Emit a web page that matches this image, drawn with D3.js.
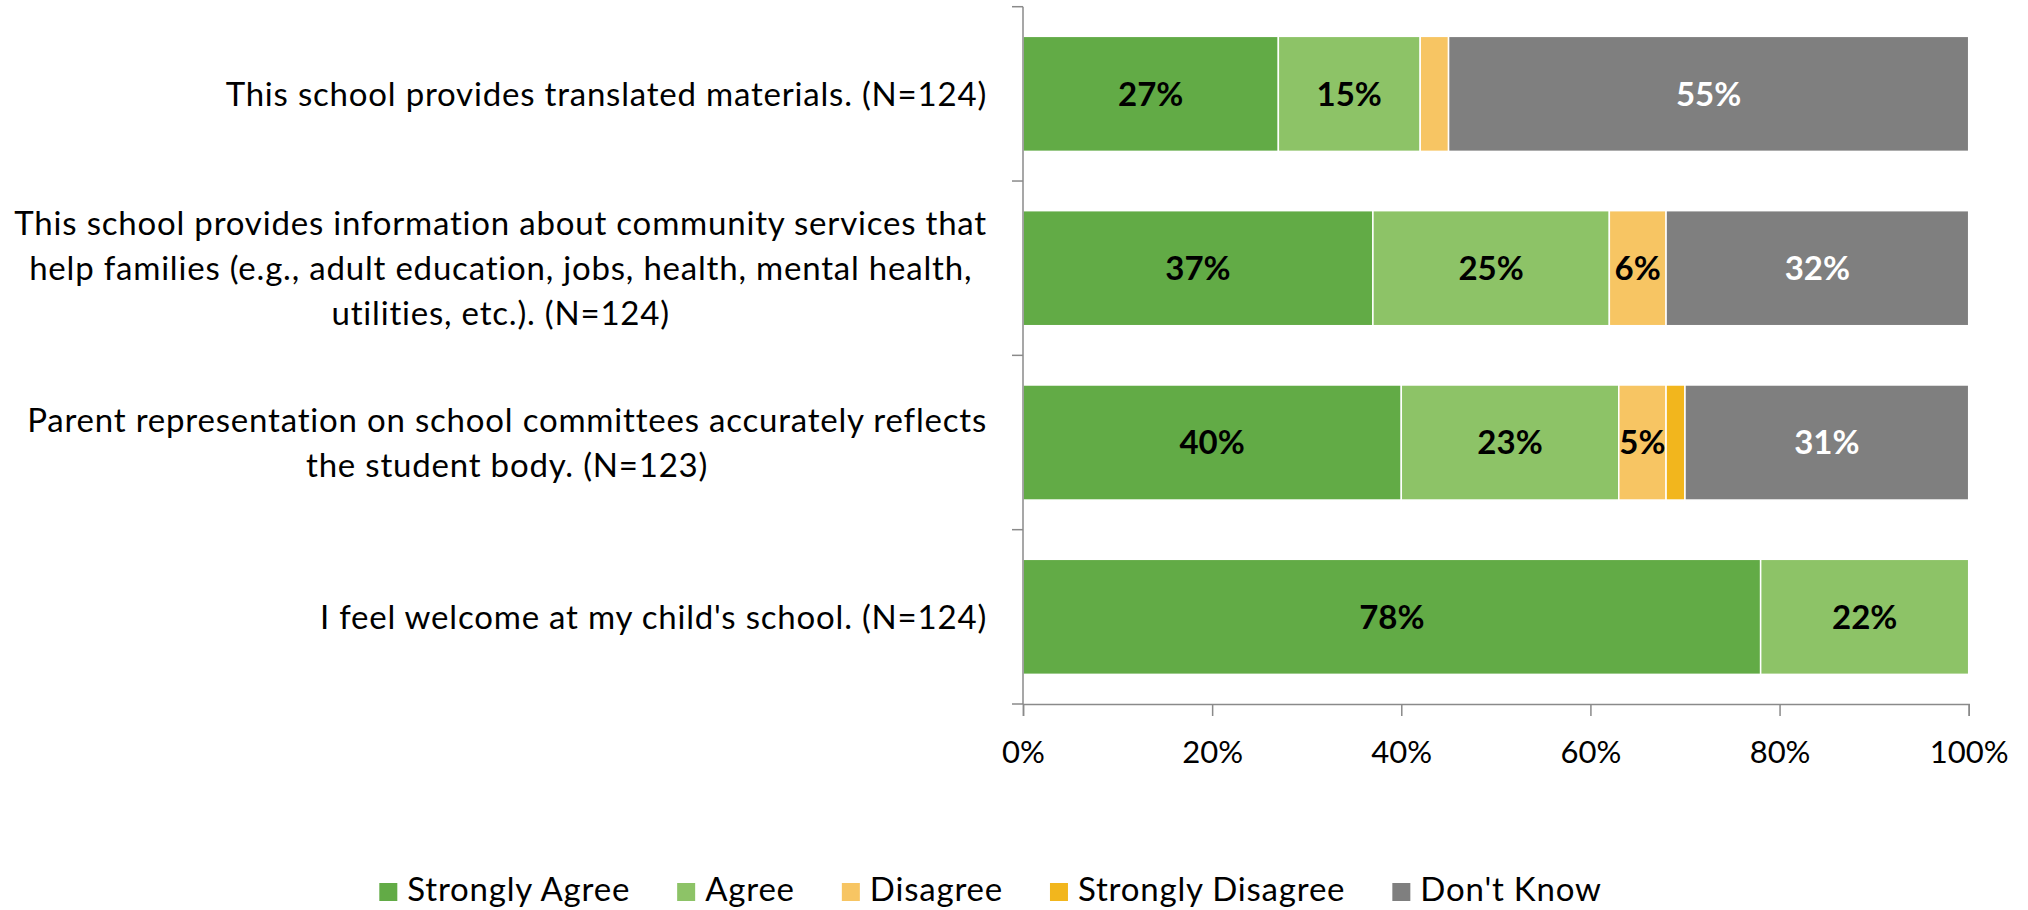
<!DOCTYPE html>
<html>
<head>
<meta charset="utf-8">
<script src="https://cdn.jsdelivr.net/npm/d3@7"></script>
<style>
  html, body { margin: 0; padding: 0; background: #fff; }
  svg { display: block; font-family: Lato, "Open Sans", sans-serif; }
</style>
</head>
<body>
<svg id="chart" width="2028" height="910"></svg>
<script>
// ---- data ----
const categories = [
  "This school provides translated materials. (N=124)",
  "This school provides information about community services that help families (e.g., adult education, jobs, health, mental health, utilities, etc.). (N=124)",
  "Parent representation on school committees accurately reflects the student body. (N=123)",
  "I feel welcome at my child's school. (N=124)"
];
const categoryLines = [
  ["This school provides translated materials. (N=124)"],
  ["This school provides information about community services that",
   "help families (e.g., adult education, jobs, health, mental health,",
   "utilities, etc.). (N=124)"],
  ["Parent representation on school committees accurately reflects",
   "the student body. (N=123)"],
  ["I feel welcome at my child's school. (N=124)"]
];
const seriesNames = ["Strongly Agree", "Agree", "Disagree", "Strongly Disagree", "Don't Know"];
const stronglyAgree    = [27, 37, 40, 78];
const agree            = [15, 25, 23, 22];
const disagree         = [3, 6, 5, 0];
const stronglyDisagree = [0, 0, 2, 0];
const dontKnow         = [55, 32, 31, 0];
const xTicks = [0, 0.2, 0.4, 0.6, 0.8, 1.0];

const seriesValues = [stronglyAgree, agree, disagree, stronglyDisagree, dontKnow];
const colors = ["#62AB46", "#8DC367", "#F7C563", "#F2B61D", "#7F7F7F"];
const labelColors = ["#000", "#000", "#000", "#000", "#fff"];

// ---- layout ----
const svg = d3.select("#chart");
const plotLeft = 1023, plotRight = 1968.7, plotTop = 6.7, plotBottom = 704;
const fontSize = 33;
const letterSp = 0.8;
const axisColor = "#8A8A8A";

const x = d3.scaleLinear().domain([0, 1]).range([plotLeft, plotRight]).clamp(true);
const y = d3.scaleBand().domain(categories).range([plotTop, plotBottom])
  .paddingInner(0.34).paddingOuter(0.17);

// stacked data
const rows = categories.map((c, i) => {
  const o = { cat: c };
  seriesNames.forEach((s, j) => o[s] = seriesValues[j][i] / 100);
  return o;
});
const stack = d3.stack().keys(seriesNames);
const stacked = stack(rows);

// bars
const gBars = svg.append("g");
stacked.forEach((layer, j) => {
  gBars.selectAll(null)
    .data(layer.filter(d => d[1] - d[0] > 0))
    .join("rect")
    .attr("x", d => x(d[0]))
    .attr("y", d => y(d.data.cat))
    .attr("width", d => x(d[1]) - x(d[0]))
    .attr("height", y.bandwidth())
    .attr("fill", colors[j])
    .attr("stroke", "#fff")
    .attr("stroke-width", 1.5);
});

// data labels
stacked.forEach((layer, j) => {
  svg.append("g").selectAll("text")
    .data(layer.filter(d => (d[1] - d[0]) >= 0.05))
    .join("text")
    .attr("x", d => (x(d[0]) + x(d[1])) / 2)
    .attr("y", d => y(d.data.cat) + y.bandwidth() / 2)
    .attr("dy", "0.36em")
    .attr("text-anchor", "middle")
    .attr("font-weight", "bold")
    .attr("font-size", 33)
    .attr("fill", labelColors[j])
    .text(d => Math.round((d[1] - d[0]) * 100) + "%");
});

// x axis
const xAxis = d3.axisBottom(x).tickValues(xTicks).tickFormat(d3.format(".0%"))
  .tickSize(12).tickPadding(25);
const gx = svg.append("g").attr("transform", `translate(0,${plotBottom})`).call(xAxis);
gx.select(".domain").attr("stroke", axisColor).attr("stroke-width", 1.5);
gx.selectAll(".tick line").attr("stroke", axisColor).attr("stroke-width", 1.5);
gx.selectAll(".tick text").attr("font-size", 31).attr("font-family", "Lato, sans-serif").attr("fill", "#000");

// y axis line and boundary ticks
const gy = svg.append("g");
gy.append("line")
  .attr("x1", plotLeft).attr("x2", plotLeft)
  .attr("y1", plotTop).attr("y2", plotBottom)
  .attr("stroke", axisColor).attr("stroke-width", 1.5);
const boundaries = categories.map(c => y(c) - y.step() * y.paddingInner() / 2);
boundaries.push(plotBottom);
gy.selectAll("line.tk").data(boundaries).join("line")
  .attr("class", "tk")
  .attr("x1", plotLeft - 11).attr("x2", plotLeft)
  .attr("y1", d => d).attr("y2", d => d)
  .attr("stroke", axisColor).attr("stroke-width", 1.5);

// category labels (centered block, right edge aligned)
const labelRight = 987;
const lineH = 45;
categories.forEach((c, i) => {
  const lines = categoryLines[i];
  const cy = y(c) + y.bandwidth() / 2;
  const t = svg.append("text")
    .attr("font-size", fontSize)
    .attr("letter-spacing", letterSp)
    .attr("fill", "#000")
    .attr("text-anchor", "middle");
  const spans = lines.map((ln, k) => t.append("tspan")
    .attr("y", cy + (k - (lines.length - 1) / 2) * lineH)
    .attr("dy", "0.36em")
    .text(ln));
  const maxW = d3.max(spans, s => s.node().getComputedTextLength());
  spans.forEach(s => s.attr("x", labelRight - maxW / 2));
});

// legend
const legend = svg.append("g");
const items = seriesNames.map((s, j) => {
  const g = legend.append("g");
  g.append("rect").attr("width", 18).attr("height", 18).attr("y", 883).attr("fill", colors[j]);
  const tx = g.append("text").attr("x", 28).attr("y", 901)
    .attr("font-size", fontSize).attr("letter-spacing", letterSp)
    .attr("fill", "#000").text(s);
  return { g, w: 28 + tx.node().getComputedTextLength() };
});
const gap = 47;
const totalW = d3.sum(items, d => d.w) + gap * (items.length - 1);
let cx = 990.5 - totalW / 2;
items.forEach(it => { it.g.attr("transform", `translate(${cx},0)`); cx += it.w + gap; });
</script>
</body>
</html>
